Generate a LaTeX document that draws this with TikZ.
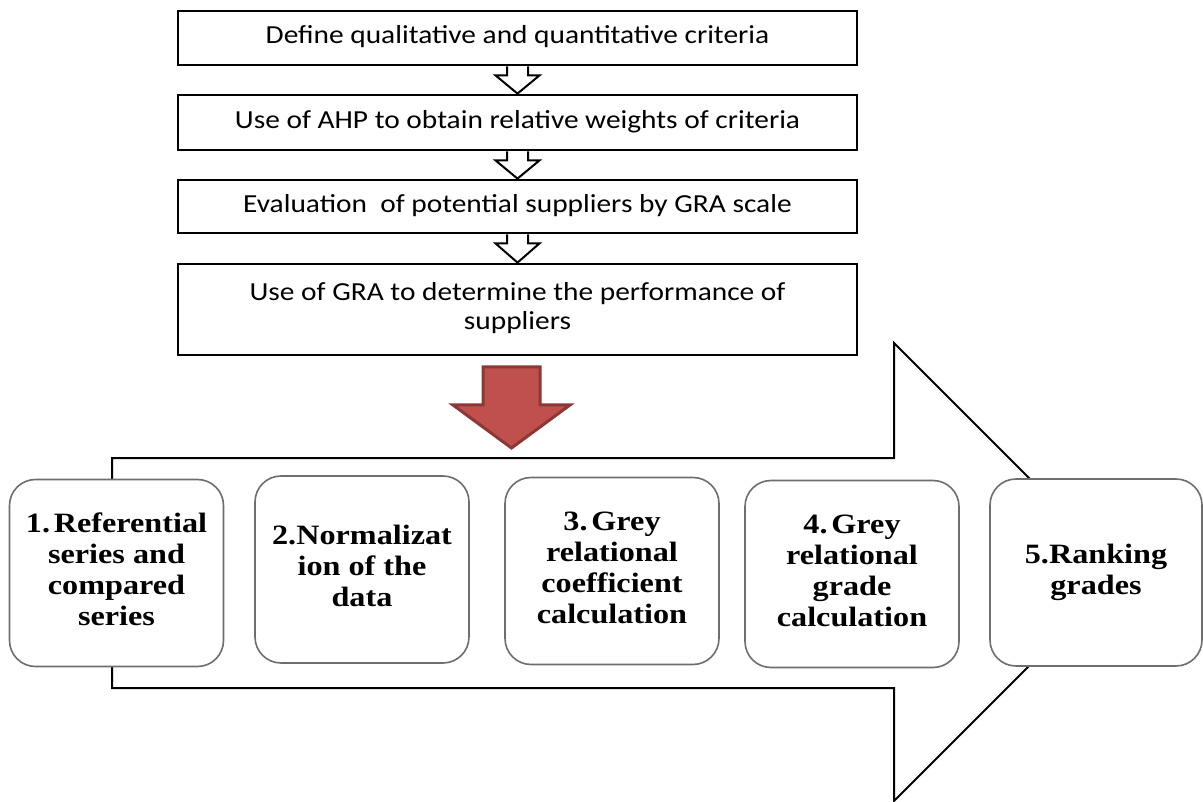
\documentclass[tikz,border=0pt]{standalone}
\usepackage{fontspec}
\usepackage{graphicx}
\usetikzlibrary{calc}
\newfontfamily\calibfont{Carlito}
\newfontfamily\timesfont{Liberation Serif}
\definecolor{redfill}{HTML}{C0504D}
\definecolor{redline}{HTML}{8C3836}
\definecolor{boxline}{HTML}{6E6E6E}
% horizontally widened multi-line text
\newcommand{\widetext}[2]{\scalebox{#1}[1]{\begin{tabular}{@{}c@{}}#2\end{tabular}}}
\tikzset{
  stagebox/.style={draw=black, line width=2.8pt, fill=white, minimum width=679pt,
    inner sep=0pt, font=\calibfont\fontsize{26}{29}\selectfont},
  stepcard/.style={draw=boxline, line width=1.6pt, fill=white, rounded corners=26pt,
    minimum width=214pt, minimum height=187pt, inner sep=0pt,
    font=\timesfont\bfseries\fontsize{28}{31}\selectfont},
  hollow/.style={draw=black, line width=2pt, fill=white, line join=miter},
  bigarrow/.style={draw=black, line width=2pt, line join=miter},
  redarrow/.style={draw=redline, fill=redfill, line width=3pt, line join=miter}
}
% hollow down arrow from the bottom of one box to the top of the next
\newcommand{\hollowdown}[2]{%
  \draw[hollow] ($(#1.south)+(-10.5,0)$) -- ($(#1.south)+(-10.5,9)$)
    -- ($(#1.south)+(-22,9)$) -- (#2.north) -- ($(#1.south)+(22,9)$)
    -- ($(#1.south)+(10.5,9)$) -- ($(#1.south)+(10.5,0)$);}
\begin{document}
\begin{tikzpicture}[x=1pt, y=-1pt]
\useasboundingbox (0,0) rectangle (1203,802);

% process boxes
\node[stagebox, minimum height=54pt] (b1) at (517.5,38)
  {\widetext{1.13}{Define qualitative and quantitative criteria}};
\node[stagebox, minimum height=55pt] (b2) at (517.5,122.5)
  {\widetext{1.13}{Use of AHP to obtain relative weights of criteria}};
\node[stagebox, minimum height=53pt] (b3) at (517.5,206.5)
  {\widetext{1.13}{Evaluation\ \ of potential suppliers by GRA scale}};
\node[stagebox, minimum height=91pt] (b4) at (517.5,309.5)
  {\widetext{1.13}{Use of GRA to determine the performance of\\suppliers}};

\hollowdown{b1}{b2}
\hollowdown{b2}{b3}
\hollowdown{b3}{b4}

% red block arrow
\draw[redarrow] (483,367) -- (540,367) -- (540,405) -- (570,405) -- (511.5,448)
  -- (453,405) -- (483,405) -- cycle;

% large outlined arrow behind the step cards
\draw[bigarrow] (112,458) -- (894,458) -- (894,343) -- (1123,572) -- (894,801)
  -- (894,688) -- (112,688) -- cycle;

% GRA step cards
\node[stepcard] (s1) at (116.5,573)
  {\widetext{1.15}{1.\hspace{0.12em}Referential\\series and\\compared\\series}};
\node[stepcard] (s2) at (362,569.5)
  {\widetext{1.15}{2.Normalizat\\ion of the\\data}};
\node[stepcard] (s3) at (612,571)
  {\widetext{1.15}{3.\hspace{0.12em}Grey\\relational\\coefficient\\calculation}};
\node[stepcard] (s4) at (852,574)
  {\widetext{1.15}{4.\hspace{0.12em}Grey\\relational\\grade\\calculation}};
\node[stepcard, minimum width=212pt] (s5) at (1096,572.5)
  {\widetext{1.15}{5.Ranking\\grades}};
\end{tikzpicture}
\end{document}
